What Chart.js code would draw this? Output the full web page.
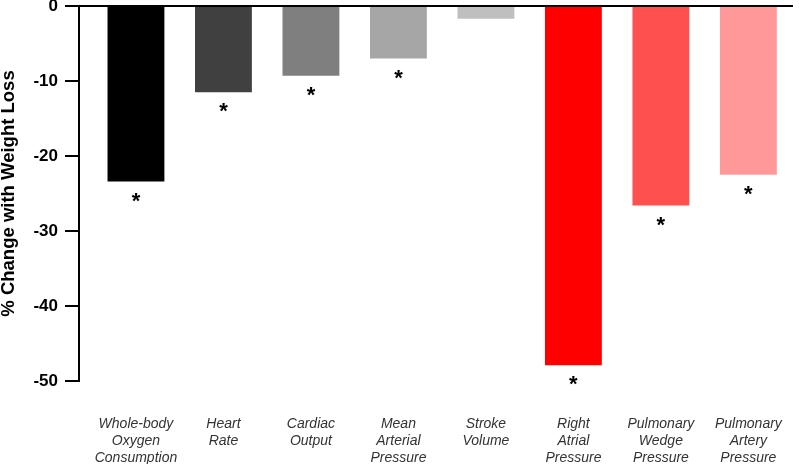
<!DOCTYPE html>
<html>
<head>
<meta charset="utf-8">
<script src="https://cdn.jsdelivr.net/npm/chart.js@4/dist/chart.umd.min.js"></script>
<style>
    html, body { margin: 0; padding: 0; background: #fff; }
    #wrap { width: 800px; height: 464px; }
</style>
</head>
<body>
<div id="wrap"><canvas id="lossChart"></canvas></div>
<script>
// categories (multi-line labels)
const categories = [
    ["Whole-body", "Oxygen", "Consumption"],
    ["Heart", "Rate"],
    ["Cardiac", "Output"],
    ["Mean", "Arterial", "Pressure"],
    ["Stroke", "Volume"],
    ["Right", "Atrial", "Pressure"],
    ["Pulmonary", "Wedge", "Pressure"],
    ["Pulmonary", "Artery", "Pressure"]
];
// % change with weight loss
const pctChange = [-23.4, -11.5, -9.3, -7.0, -1.7, -47.9, -26.6, -22.5];
// significant change (asterisk)
const significant = [true, true, true, true, false, true, true, true];
const yTicks = [0, -10, -20, -30, -40, -50];

const barColors = ["#000000", "#404040", "#7f7f7f", "#a6a6a6", "#bfbfbf", "#ff0000", "#ff5050", "#ff9999"];

// draws the asterisks under significant bars
const starPlugin = {
    id: "stars",
    afterDatasetsDraw(chart) {
        const ctx = chart.ctx;
        const meta = chart.getDatasetMeta(0);
        ctx.save();
        ctx.fillStyle = "#000";
        ctx.font = "bold 22px Arial, 'Liberation Sans', sans-serif";
        ctx.textAlign = "center";
        ctx.textBaseline = "alphabetic";
        meta.data.forEach((bar, i) => {
            if (significant[i]) ctx.fillText("*", bar.x, bar.y + 26);
        });
        ctx.restore();
    }
};

const ctx = document.getElementById("lossChart").getContext("2d");
new Chart(ctx, {
    type: "bar",
    data: {
        datasets: [{
            data: pctChange.map((v, i) => ({ x: i, y: v })),
            backgroundColor: barColors,
            borderWidth: 0,
            barPercentage: 0.65,
            categoryPercentage: 1
        }]
    },
    options: {
        responsive: true,
        maintainAspectRatio: false,
        animation: false,
        layout: { padding: { left: 0, right: 7, top: 0, bottom: 0 } },
        plugins: {
            legend: { display: false },
            tooltip: { enabled: false }
        },
        scales: {
            x: {
                type: "linear",
                offset: false,
                min: -0.651,
                max: 7.51,
                grid: { display: false, drawTicks: false },
                border: { display: false },
                afterBuildTicks: axis => {
                    axis.ticks = categories.map((c, i) => ({ value: i }));
                },
                afterFit: scale => {
                    scale.height = 83;
                    scale.paddingLeft = 0;
                    scale.paddingRight = 0;
                },
                ticks: {
                    autoSkip: false,
                    maxRotation: 0,
                    padding: 35,
                    color: "#333",
                    font: { family: "Arial, 'Liberation Sans', sans-serif", size: 14, style: "italic", lineHeight: 17 / 14 },
                    callback: value => categories[value]
                }
            },
            y: {
                min: -50,
                max: 0,
                afterBuildTicks: axis => {
                    axis.ticks = yTicks.map(v => ({ value: v }));
                },
                afterFit: scale => {
                    scale.width = 79;
                    scale.paddingTop = 6;
                    scale.paddingBottom = 0;
                },
                grid: {
                    color: c => (c.tick && c.tick.value === 0 ? "#000" : "rgba(0,0,0,0)"),
                    tickColor: "#000",
                    tickLength: 14,
                    lineWidth: 2
                },
                border: { display: true, color: "#000", width: 2 },
                ticks: {
                    padding: 7,
                    color: "#000",
                    font: { family: "Arial, 'Liberation Sans', sans-serif", size: 17, weight: "bold" }
                },
                title: {
                    display: true,
                    text: "% Change with Weight Loss",
                    color: "#000",
                    padding: { top: 0, bottom: 0 },
                    font: { family: "Arial, 'Liberation Sans', sans-serif", size: 18.5, weight: "bold", lineHeight: 1 }
                }
            }
        }
    },
    plugins: [starPlugin]
});
</script>
</body>
</html>
